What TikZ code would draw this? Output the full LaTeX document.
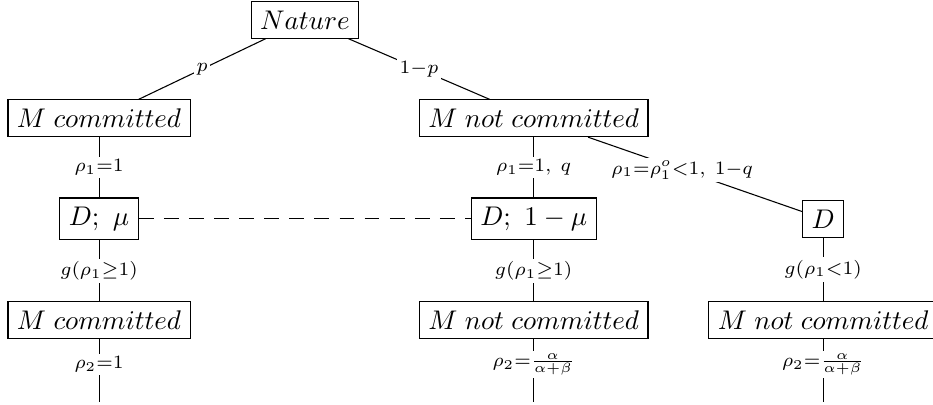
\documentclass[tikz,border=0pt]{standalone}
\usepackage{tikz}
\usepackage{xcolor}
\usepackage{amsmath}

\begin{document}
\begin{tikzpicture}[
    stage/.style={draw, inner sep=3.33pt},
    move/.style={midway, fill=white, inner sep=1pt},
    info/.style={dash pattern=on 5.5pt off 3.8pt}
]

    % fix the picture size (cropped at the right edge as in the original)
    \useasboundingbox (0,0) rectangle (12.15,-5.27);

    % ==========================================
    % NODES OF THE TREE
    % ==========================================

    % Nature moves first
    \node[stage] (nat) at (3.97, -0.26) {$Nature$};

    % Type of M
    \node[stage] (com1) at (1.29, -1.54) {$M\;committed$};
    \node[stage] (ncom1) at (6.95, -1.54) {$M\;not\;committed$};

    % D moves (information set on the left two)
    \node[stage] (dmu) at (1.29, -2.85) {$D;\ \mu$};
    \node[stage] (dnmu) at (6.95, -2.85) {$D;\ 1-\mu$};
    \node[stage] (d) at (10.72, -2.85) {$D$};

    % Second period
    \node[stage] (com2) at (1.29, -4.17) {$M\;committed$};
    \node[stage] (ncom2) at (6.95, -4.17) {$M\;not\;committed$};
    \node[stage] (ncom3) at (10.72, -4.17) {$M\;not\;committed$};

    % Loose ends at the bottom
    \coordinate (end1) at (1.29, -5.24);
    \coordinate (end2) at (6.95, -5.24);
    \coordinate (end3) at (10.72, -5.24);

    % ==========================================
    % BRANCHES
    % ==========================================

    \draw (nat) -- (com1) node[move] {$\scriptstyle p$};
    \draw (nat) -- (ncom1) node[move] {$\scriptstyle 1-p$};

    \draw (com1) -- (dmu) node[move] {$\scriptstyle \rho_1=1$};
    \draw (ncom1) -- (dnmu) node[move] {$\scriptstyle \rho_1=1,\ q$};
    \draw (ncom1) -- (d) node[move, pos=0.44] {$\scriptstyle \rho_1=\rho_1^o<1,\ 1-q$};

    \draw (dmu) -- (com2) node[move] {$\scriptstyle g(\rho_1\geq 1)$};
    \draw (dnmu) -- (ncom2) node[move] {$\scriptstyle g(\rho_1\geq 1)$};
    \draw (d) -- (ncom3) node[move] {$\scriptstyle g(\rho_1<1)$};

    \draw (com2) -- (end1) node[move, pos=0.4] {$\scriptstyle \rho_2=1$};
    \draw (ncom2) -- (end2) node[move, pos=0.4] {$\scriptstyle \rho_2=\frac{\alpha}{\alpha+\beta}$};
    \draw (ncom3) -- (end3) node[move, pos=0.4] {$\scriptstyle \rho_2=\frac{\alpha}{\alpha+\beta}$};

    % Information set of D
    \draw[info] (dmu) -- (dnmu);

\end{tikzpicture}
\end{document}
